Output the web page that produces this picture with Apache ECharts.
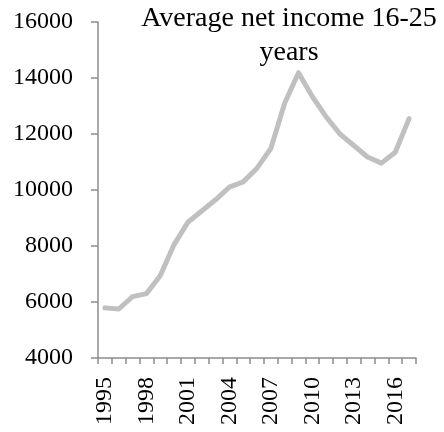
<!DOCTYPE html>
<html><head><meta charset="utf-8">
<script src="https://cdn.jsdelivr.net/npm/echarts@6/dist/echarts.min.js"></script>
<style>html,body{margin:0;padding:0;background:#fff}#c{width:444px;height:432px}</style>
</head><body><div id="c"></div>
<script>
const years = ['1995','1996','1997','1998','1999','2000','2001','2002','2003','2004','2005','2006','2007','2008','2009','2010','2011','2012','2013','2014','2015','2016','2017'];
const income = [5790,5750,6190,6300,6940,8050,8850,9250,9650,10100,10290,10780,11480,13100,14190,13340,12610,12000,11590,11180,10960,11350,12550];
const yTicks = [4000,6000,8000,10000,12000,14000,16000];
const titleText = 'Average net income 16-25\nyears';

const chart = echarts.init(document.getElementById('c'));
const font = 'Liberation Serif';
chart.setOption({
  animation: false,
  title: {
    text: titleText, left: 284, top: -3, textAlign: 'center',
    textStyle: {fontFamily: font, fontSize: 28, fontWeight: 'normal', color: '#000', lineHeight: 34}
  },
  grid: {left: 98, right: 28, top: 22, bottom: 74},
  xAxis: {
    type: 'category', data: years, boundaryGap: true,
    axisLine: {lineStyle: {color: '#8c8c8c', width: 1.5}},
    axisTick: {show: true, interval: 0, length: 6, lineStyle: {color: '#8c8c8c', width: 1.5}},
    axisLabel: {interval: 2, rotate: 90, margin: 19, fontFamily: font, fontSize: 24, color: '#000'}
  },
  yAxis: {
    type: 'value', min: yTicks[0], max: yTicks[yTicks.length-1], interval: 2000,
    splitLine: {show: false},
    axisLine: {show: true, lineStyle: {color: '#8c8c8c', width: 1.5}},
    axisTick: {show: true, length: 7, lineStyle: {color: '#8c8c8c', width: 1.5}},
    axisLabel: {margin: 25, fontFamily: font, fontSize: 24, color: '#000', formatter: v => String(v)}
  },
  series: [{
    type: 'line', data: income, symbol: 'none',
    lineStyle: {color: '#c0c0c0', width: 5, cap: 'round', join: 'round'}
  }]
});
</script></body></html>
